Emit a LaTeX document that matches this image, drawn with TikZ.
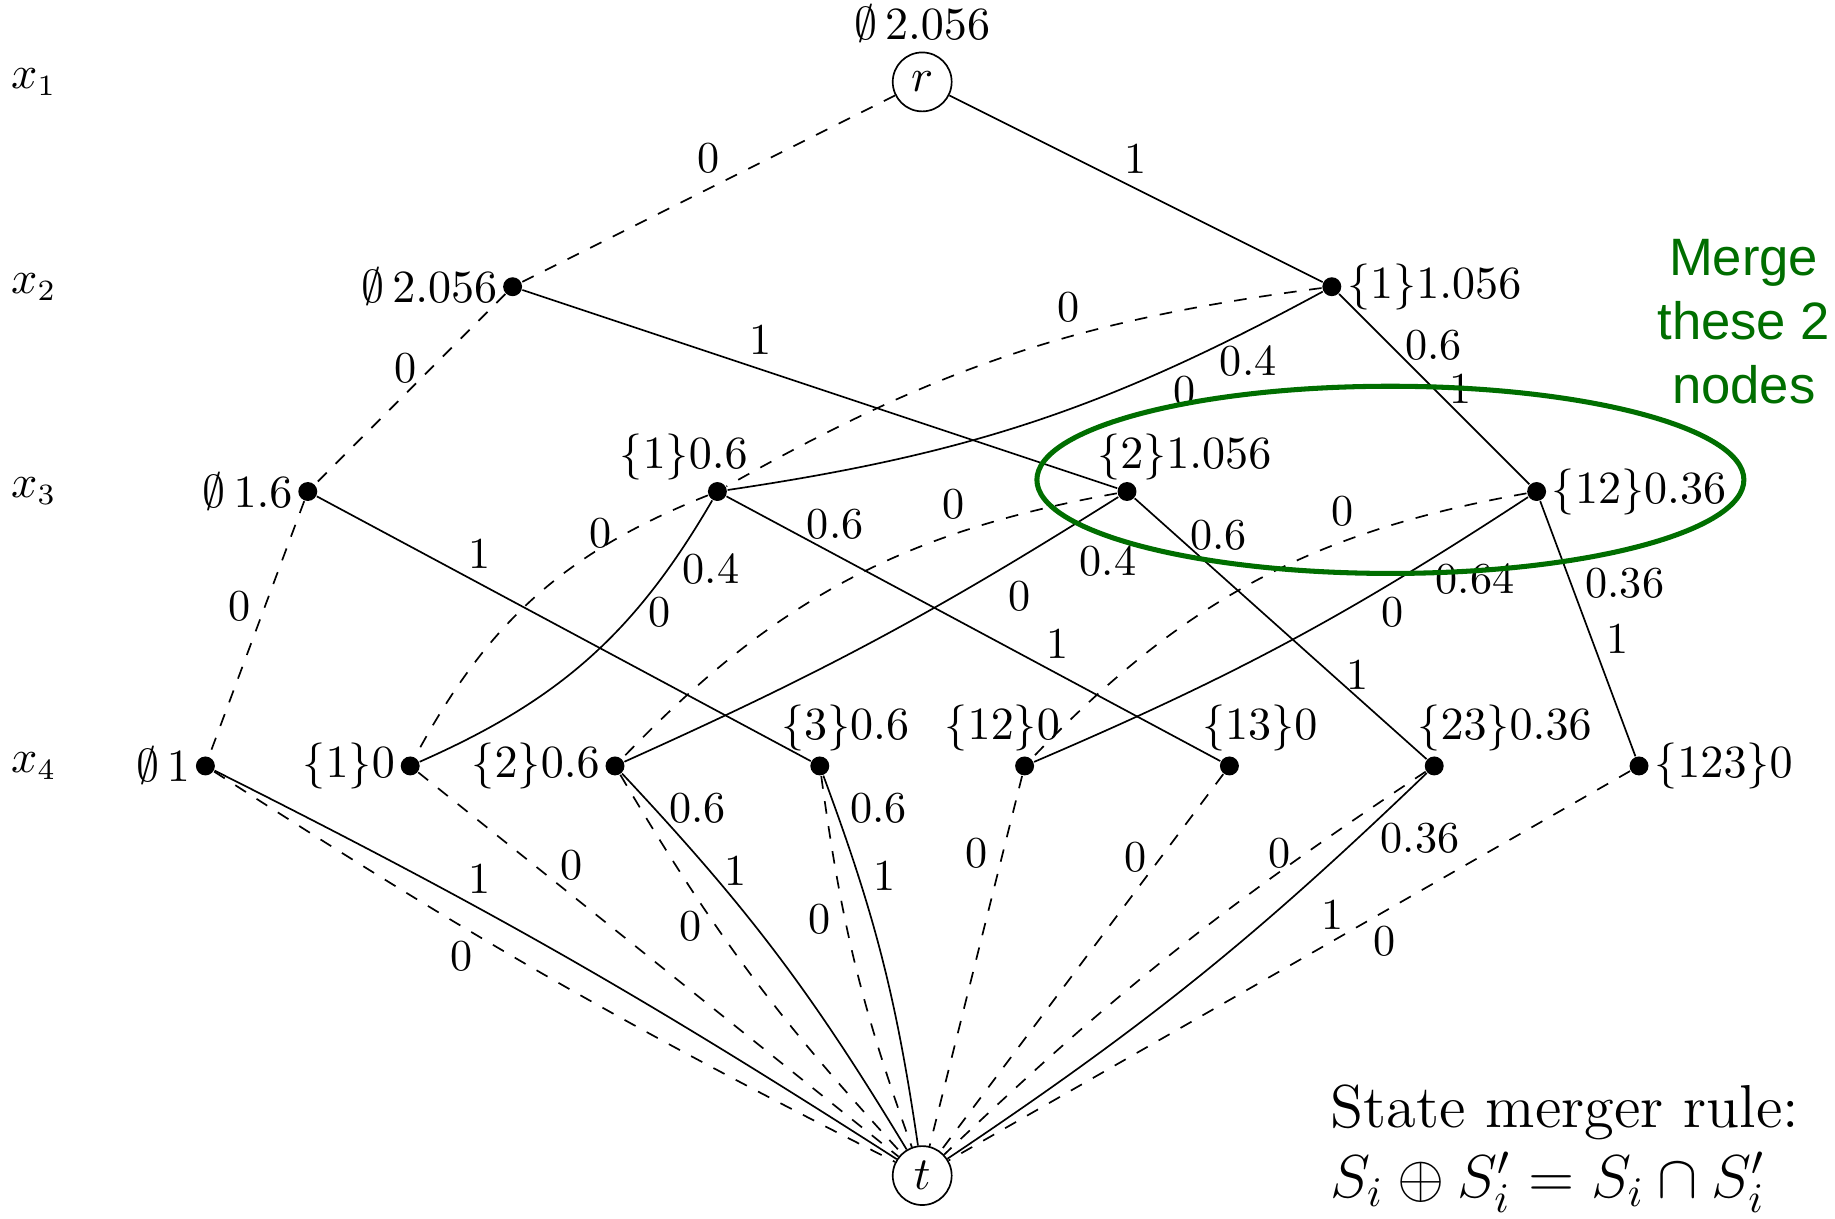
\documentclass[tikz,border=0pt]{standalone}
\usepackage{amsmath}
\usepackage{fontspec}
\newfontfamily\notefont{Liberation Sans}
\usepackage{tikz}
\usetikzlibrary{positioning}
\definecolor{mergegreen}{RGB}{0,110,0}

\begin{document}
\begin{tikzpicture}[
    x=1.71cm, y=1.71cm,
    every node/.style={font=\fontsize{10.5}{12.6}\selectfont},
    every label/.style={inner sep=1pt},
    dot/.style={circle, fill, inner sep=0pt, minimum size=4.5pt},
    term/.style={draw, circle, inner sep=1pt, minimum size=14pt},
    zeroarc/.style={dashed},
    onearc/.style={solid},
    merge/.style={draw=mergegreen, line width=1.2pt},
    mergenote/.style={text=mergegreen, align=center, inner sep=0pt, font=\notefont\fontsize{12.5}{15.2}\selectfont}
]
    \useasboundingbox (-4.503,0.4) rectangle (4.457,-5.549);

    \node (lx1) at (-4.338,0) {$x_1$};
    \node (lx2) at (-4.338,-1) {$x_2$};
    \node (lx3) at (-4.338,-2) {$x_3$};
    \node (lx4) at (-4.338,-3.34) {$x_4$};

    \node[term, label={[inner sep=2pt]above:$\emptyset\,2.056$}] (r) at (0,0) {$r$};
    \node[dot, label={left:$\emptyset\,2.056$}] (a2) at (-2,-1) {};
    \node[dot, label={right:$\{1\}1.056$}] (b2) at (2,-1) {};
    \node[dot, label={left:$\emptyset\,1.6$}] (a3) at (-3,-2) {};
    \node[dot, label={[xshift=-8pt, yshift=-1pt]above:$\{1\}0.6$}] (b3) at (-1,-2) {};
    \node[dot, label={[xshift=13.6pt, yshift=-1pt]above:$\{2\}1.056$}] (c3) at (1,-2) {};
    \node[dot, label={right:$\{12\}0.36$}] (d3) at (3,-2) {};
    \node[dot, label={left:$\emptyset\,1$}] (a4) at (-3.5,-3.34) {};
    \node[dot, label={left:$\{1\}0$}] (b4) at (-2.5,-3.34) {};
    \node[dot, label={left:$\{2\}0.6$}] (c4) at (-1.5,-3.34) {};
    \node[dot, label={[xshift=6pt]above:$\{3\}0.6$}] (d4) at (-0.5,-3.34) {};
    \node[dot, label={[xshift=-5.3pt]above:$\{12\}0$}] (e4) at (0.5,-3.34) {};
    \node[dot, label={[xshift=7.2pt]above:$\{13\}0$}] (f4) at (1.5,-3.34) {};
    \node[dot, label={[xshift=16.7pt]above:$\{23\}0.36$}] (g4) at (2.5,-3.34) {};
    \node[dot, label={right:$\{123\}0$}] (h4) at (3.5,-3.34) {};
    \node[term] (t) at (0,-5.34) {$t$};

    \draw[zeroarc] (r) -- node[pos=.5, above] {0} (a2);
    \draw[onearc] (r) -- node[pos=.5, above] {1} (b2);

    \draw[zeroarc] (a2) -- node[pos=.39, left] {0} (a3);
    \draw[onearc] (a2) -- node[pos=.4, above] {1} (c3);
    \draw[zeroarc] (b2) to[bend right=11] node[pos=.4, above] {0} (b3);
    \draw[onearc] (b2) to[bend left=10] node[pos=.12, below] {0.4} node[pos=.23, below] {0} (b3);
    \draw[onearc] (b2) -- node[pos=.27, right] {0.6} node[pos=.5, right] {1} (d3);

    \draw[zeroarc] (a3) -- node[pos=.41, left] {0} (a4);
    \draw[onearc] (a3) -- node[pos=.33, above] {1} (d4);
    \draw[zeroarc] (b3) to[bend right=20] node[pos=.21, left] {0} (b4);
    \draw[onearc] (b3) to[bend left=18] node[pos=.19, right] {0.4} node[pos=.33, right] {0} (b4);
    \draw[onearc] (b3) -- node[pos=.22, above] {0.6} node[pos=.67, above] {1} (f4);
    \draw[zeroarc] (c3) to[bend right=18] node[pos=.28, above] {0} (c4);
    \draw[onearc] (c3) to[bend left=4] node[pos=.1, below right] {0.4} node[pos=.19, below=2pt] {0} (c4);
    \draw[onearc] (c3) -- node[pos=.14, right] {0.6} node[pos=.675, right] {1} (g4);
    \draw[zeroarc] (d3) to[bend right=18] node[pos=.32, above] {0} (e4);
    \draw[onearc] (d3) to[bend left=5] node[pos=.1, below=4pt] {0.64} node[pos=.27, below] {0} (e4);
    \draw[onearc] (d3) -- node[pos=.32, right] {0.36} node[pos=.54, right] {1} (h4);

    \draw[onearc] (a4) to[bend left=3] node[pos=.37, above] {1} (t);
    \draw[zeroarc] (a4) to[bend right=3] node[pos=.36, below] {0} (t);
    \draw[zeroarc] (b4) -- node[pos=.32, above] {0} (t);
    \draw[onearc] (c4) to[bend left=6] node[pos=.09, right] {0.6} node[pos=.26, right] {1} (t);
    \draw[zeroarc] (c4) to[bend right=6] node[pos=.37, left] {0} (t);
    \draw[onearc] (d4) to[bend left=6] node[pos=.08, right] {0.6} node[pos=.26, right] {1} (t);
    \draw[zeroarc] (d4) to[bend right=6] node[pos=.37, left] {0} (t);
    \draw[zeroarc] (e4) -- node[pos=.21, left] {0} (t);
    \draw[zeroarc] (f4) -- node[pos=.22, left] {0} (t);
    \draw[zeroarc] (g4) to[bend right=5] node[pos=.22, left] {0} (t);
    \draw[onearc] (g4) to[bend left=5] node[pos=.14, right=2pt] {0.36} node[pos=.25, below right] {1} (t);
    \draw[zeroarc] (h4) -- node[pos=.36, below] {0} (t);

    \draw[merge] (2.286,-1.943) ellipse [x radius=1.726, y radius=0.457];
    \node[mergenote] (note) at (4.011,-1.171) {Merge\\these 2\\nodes};

    \node[anchor=north west, inner sep=0pt, align=left, font=\Large] (rule) at (1.99,-4.895) {State merger rule:\\[-1.5pt]$S_i \oplus S'_i = S_i \cap S'_i$};
\end{tikzpicture}
\end{document}
